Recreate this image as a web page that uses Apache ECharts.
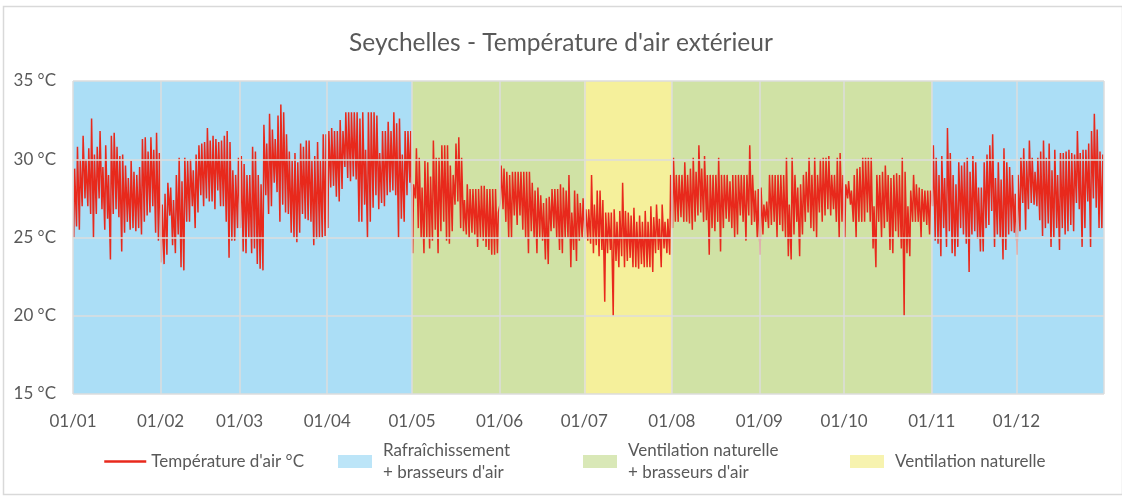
<!DOCTYPE html>
<html>
<head>
<meta charset="utf-8">
<script src="https://cdn.jsdelivr.net/npm/echarts@6/dist/echarts.min.js"></script>
<style>
  html, body { margin: 0; padding: 0; background: #ffffff; }
  #chart { width: 1122px; height: 496px; }
</style>
</head>
<body>
<div id="chart"></div>
<script>
// Daily maximum air temperature (°C), one row per month
const dailyMax = [
  29.4,30.8,30.0,31.5,30.0,30.7,32.6,30.3,30.8,31.8,29.5,30.9,29.0,31.5,31.7,30.8,30.2,30.3,29.6,28.8,29.9,29.2,29.0,29.5,31.3,31.4,30.5,31.4,30.6,31.7,30.4,
  27.1,27.8,28.5,28.2,27.4,29.0,30.1,28.6,30.1,29.9,30.0,29.3,30.3,30.9,31.0,31.1,32.0,31.2,31.5,31.3,31.1,31.2,31.5,31.8,31.1,29.3,29.0,30.1,
  30.2,29.7,29.0,29.0,30.8,30.5,29.0,28.4,32.2,31.0,32.9,31.9,31.3,32.8,33.5,33.0,31.6,30.5,29.9,30.4,29.8,31.0,30.8,31.2,31.2,29.9,30.2,31.1,29.9,31.6,31.6,
  31.8,32.0,31.8,31.8,32.5,31.8,33.0,33.0,33.0,33.0,33.0,32.6,33.0,30.6,33.0,33.0,33.0,32.8,30.4,31.8,31.8,32.4,31.8,33.0,32.3,32.6,30.3,31.8,31.8,31.8,
  28.4,30.7,30.1,28.2,29.9,29.8,28.9,31.2,30.1,30.1,30.9,30.9,30.9,29.6,29.0,31.0,31.4,30.1,27.4,28.4,28.1,28.1,28.1,28.1,28.3,28.3,28.1,28.1,28.1,28.1,26.6,
  29.6,29.4,29.2,29.0,29.2,29.2,29.2,29.2,29.2,29.2,29.2,28.5,28.0,28.2,27.7,27.2,27.5,27.6,28.1,28.1,28.1,28.4,28.2,28.0,29.0,26.6,28.0,27.8,27.2,27.5,
  26.8,26.8,29.0,27.1,28.0,28.0,27.4,26.6,26.6,26.6,26.8,26.0,26.7,28.5,26.7,26.6,26.4,26.9,26.0,26.4,26.0,26.7,26.0,27.0,26.3,27.1,26.2,27.1,26.0,26.2,29.0,
  30.1,29.0,29.0,29.0,29.8,29.0,29.4,30.1,29.2,30.9,29.4,30.2,29.0,29.0,29.0,29.0,30.1,29.0,29.0,29.0,28.6,29.0,29.0,29.0,29.0,29.0,29.0,30.9,29.0,28.0,28.1,
  28.2,27.1,27.3,29.0,29.0,29.0,29.0,29.0,29.0,30.1,27.1,30.1,29.0,28.2,28.4,29.0,29.2,30.1,29.0,30.1,29.0,30.0,30.1,30.1,30.2,29.0,29.0,30.1,30.4,29.0,
  28.4,28.6,28.0,29.0,29.4,29.5,30.1,30.1,30.1,30.1,27.0,29.0,29.0,29.2,29.6,29.0,28.8,29.0,29.1,29.0,30.1,29.2,27.0,28.0,29.0,28.4,28.2,28.1,28.0,28.0,28.0,
  30.9,30.1,29.0,30.2,28.8,32.0,30.4,29.0,28.4,29.8,29.6,29.8,30.1,29.2,30.2,29.8,28.2,28.2,29.8,30.3,30.9,31.6,28.8,29.8,28.7,30.7,29.8,29.5,29.0,27.8,
  29.0,30.1,30.7,29.9,31.2,30.1,29.2,30.1,30.5,31.2,30.1,31.0,29.3,30.6,29.0,30.4,30.4,30.5,30.6,30.4,30.3,31.8,30.4,30.6,30.6,31.0,31.8,32.9,31.9,30.5,30.3
];

// Daily minimum air temperature (°C), one row per month
const dailyMin = [
  25.0,25.7,25.5,27.0,27.5,27.0,26.5,25.0,26.5,27.5,26.8,25.5,26.2,23.6,26.5,26.8,26.3,24.1,25.3,26.0,25.5,25.6,25.4,25.6,25.2,26.0,26.4,26.6,27.0,25.3,24.8,
  23.4,23.3,23.9,26.4,24.5,24.0,25.2,23.1,22.9,26.0,26.0,27.0,25.6,26.6,27.7,27.0,27.5,27.3,27.3,26.8,28.0,27.0,27.0,26.0,23.7,24.8,24.8,25.6,
  25.6,24.1,24.0,25.0,24.0,24.3,23.3,23.0,22.9,27.7,26.5,27.0,28.5,27.9,26.0,27.1,26.6,26.5,25.3,25.0,24.7,25.3,26.5,26.2,26.1,26.0,24.5,24.9,25.0,25.0,25.1,
  25.6,28.2,28.3,27.6,27.3,28.1,29.5,28.8,28.6,28.9,28.7,26.0,26.0,27.1,25.0,26.0,26.9,27.7,26.8,27.2,27.0,27.7,27.9,28.0,27.7,25.0,26.2,26.0,27.7,28.5,
  24.0,27.5,25.6,25.0,24.0,25.0,24.3,24.8,25.5,24.0,25.4,26.0,24.8,24.6,25.4,27.1,27.3,25.6,25.4,25.2,25.0,25.3,25.2,24.4,25.0,24.8,24.4,24.2,23.9,23.9,24.0,
  27.2,26.8,26.0,25.0,25.0,26.4,25.8,26.4,25.5,25.0,24.0,25.4,25.0,24.0,25.0,24.8,23.6,23.3,25.4,25.6,25.0,24.2,24.0,25.0,25.0,23.1,24.2,23.5,24.8,25.0,
  25.0,24.8,24.6,24.0,24.5,23.8,24.2,20.9,24.0,24.2,20.0,23.5,23.1,23.8,23.1,23.5,23.7,23.1,23.1,23.0,23.3,23.1,23.1,23.1,22.8,24.0,24.2,23.1,24.3,24.0,23.9,
  25.6,26.0,26.0,26.3,26.0,26.0,25.9,25.5,26.0,26.4,26.6,26.0,26.1,23.9,25.6,25.4,26.0,24.1,25.6,26.2,26.0,25.6,25.0,25.2,26.4,26.0,24.8,26.4,25.8,26.0,25.0,
  23.9,25.2,26.0,25.6,25.8,26.0,25.0,25.8,25.4,25.0,23.8,23.6,25.2,26.0,23.8,25.2,26.0,26.6,25.6,25.4,25.0,26.6,26.0,26.4,26.8,26.4,26.8,26.0,25.0,26.0,
  25.0,27.5,27.1,26.0,25.0,26.0,26.0,26.0,26.6,26.0,24.3,23.1,26.0,25.0,25.6,26.0,24.2,24.0,25.4,25.0,24.3,20.0,24.0,23.8,26.0,26.0,26.0,25.0,26.0,25.8,25.2,
  27.0,24.8,24.6,23.8,25.6,24.4,25.4,24.0,23.8,24.4,25.6,25.2,24.6,22.8,25.2,25.4,24.9,24.1,24.1,25.6,25.8,26.7,24.4,25.2,25.0,23.6,24.2,25.2,25.4,25.3,
  23.9,25.4,27.2,25.5,26.8,27.2,27.1,27.0,26.1,25.1,25.6,25.9,24.4,25.0,25.6,24.2,25.6,25.2,25.4,25.8,25.4,27.2,26.8,24.4,25.6,27.3,24.4,27.5,26.9,25.6,25.6
];

// Month boundaries (day of year) and their axis labels
const monthStarts = [0, 31, 59, 90, 120, 151, 181, 212, 243, 273, 304, 334];
const monthLabels = ['01/01','01/02','01/03','01/04','01/05','01/06','01/07','01/08','01/09','01/10','01/11','01/12'];
const yearEnd = 365;
const yTicks = [15, 20, 25, 30, 35];

// Comfort strategy periods (day-of-year ranges)
const bandNames = [
  'Rafraîchissement + brasseurs d\'air',
  'Ventilation naturelle + brasseurs d\'air',
  'Ventilation naturelle'
];
const bandColors = ['#abdef6', '#d0e2a5', '#f5f09b'];
const bandRanges = [
  [[0, 120], [304, 365]],
  [[120, 181], [212, 304]],
  [[181, 212]]
];
const lineName = 'Température d\'air °C';
const lineColor = '#e8291c';

// Daily cycle: minimum in the early morning, maximum in the afternoon
const MIN_HOUR = 0.25, MAX_HOUR = 0.58;
const tempPoints = [];
for (let d = 0; d < dailyMax.length; d++) {
  tempPoints.push([d + MIN_HOUR, dailyMin[d]]);
  tempPoints.push([d + MAX_HOUR, dailyMax[d]]);
}

const textColor = '#595959';
const fontFamily = 'Lato, "Open Sans", sans-serif';
const gridColor = '#dcdcdc';

const bandSeries = bandNames.map((name, i) => ({
  name: name,
  type: 'scatter',
  data: [],
  z: 1,
  itemStyle: { color: bandColors[i] },
  markArea: {
    silent: true,
    itemStyle: { color: bandColors[i], opacity: 1 },
    label: { show: false },
    data: bandRanges[i].map(r => [{ xAxis: r[0] }, { xAxis: r[1] }])
  }
}));

const gridLineSeries = {
  name: 'grid',
  type: 'scatter',
  data: [],
  z: 2,
  markLine: {
    silent: true,
    symbol: ['none', 'none'],
    label: { show: false },
    lineStyle: { color: gridColor, type: 'solid', width: 1.5 },
    data: monthStarts.concat([yearEnd]).map(v => ({ xAxis: v }))
      .concat(yTicks.map(v => ({ yAxis: v })))
  }
};

const legendText = n => n.replace(' + ', '\n+ ');
const legendBase = {
  orient: 'horizontal',
  itemGap: 0,
  padding: 0,
  formatter: legendText,
  selectedMode: false,
  textStyle: { color: textColor, fontSize: 17, fontFamily: fontFamily, lineHeight: 22 }
};
const bandLegendText = Object.assign({}, legendBase.textStyle, { padding: [0, 0, 0, 6] });

const chart = echarts.init(document.getElementById('chart'), null, { renderer: 'canvas' });
chart.setOption({
  animation: false,
  backgroundColor: '#ffffff',
  title: {
    text: 'Seychelles - Température d\'air extérieur',
    left: 'center',
    top: 26,
    textStyle: { color: textColor, fontSize: 24.5, fontWeight: 'normal', fontFamily: fontFamily }
  },
  graphic: [{
    type: 'rect',
    left: 1, top: 4,
    shape: { width: 1119, height: 488 },
    style: { fill: 'none', stroke: '#d9d9d9', lineWidth: 1.5 },
    silent: true
  }],
  legend: [
    Object.assign({}, legendBase, {
      left: 103, top: 450.5, itemWidth: 42, itemHeight: 14,
      data: [{ name: lineName, itemStyle: { opacity: 0 }, lineStyle: { color: lineColor, width: 2.5 } }]
    }),
    Object.assign({}, legendBase, {
      left: 338, top: 439.5, itemWidth: 34, itemHeight: 13, textStyle: bandLegendText,
      data: [{ name: bandNames[0], icon: 'rect' }]
    }),
    Object.assign({}, legendBase, {
      left: 583, top: 439.5, itemWidth: 34, itemHeight: 13, textStyle: bandLegendText,
      data: [{ name: bandNames[1], icon: 'rect' }]
    }),
    Object.assign({}, legendBase, {
      left: 850, top: 450.5, itemWidth: 34, itemHeight: 13, textStyle: bandLegendText,
      data: [{ name: bandNames[2], icon: 'rect' }]
    })
  ],
  grid: { left: 73, right: 18, top: 81, bottom: 102, containLabel: false },
  xAxis: {
    type: 'value',
    min: 0,
    max: yearEnd,
    axisLine: { show: false },
    axisTick: { show: false },
    splitLine: { show: false },
    axisLabel: {
      customValues: monthStarts,
      formatter: v => monthLabels[monthStarts.indexOf(v)] || '',
      color: textColor,
      fontSize: 17,
      fontFamily: fontFamily,
      margin: 19
    }
  },
  yAxis: {
    type: 'value',
    min: 15,
    max: 35,
    interval: 5,
    axisLine: { show: false },
    axisTick: { show: false },
    splitLine: { show: false },
    axisLabel: {
      formatter: '{value} °C',
      color: textColor,
      fontSize: 17,
      fontFamily: fontFamily,
      margin: 17
    }
  },
  series: bandSeries.concat([gridLineSeries, {
    name: lineName,
    type: 'line',
    data: tempPoints,
    z: 3,
    symbol: 'none',
    showSymbol: false,
    itemStyle: { color: lineColor },
    lineStyle: { color: lineColor, width: 1.5 }
  }])
});
</script>
</body>
</html>
